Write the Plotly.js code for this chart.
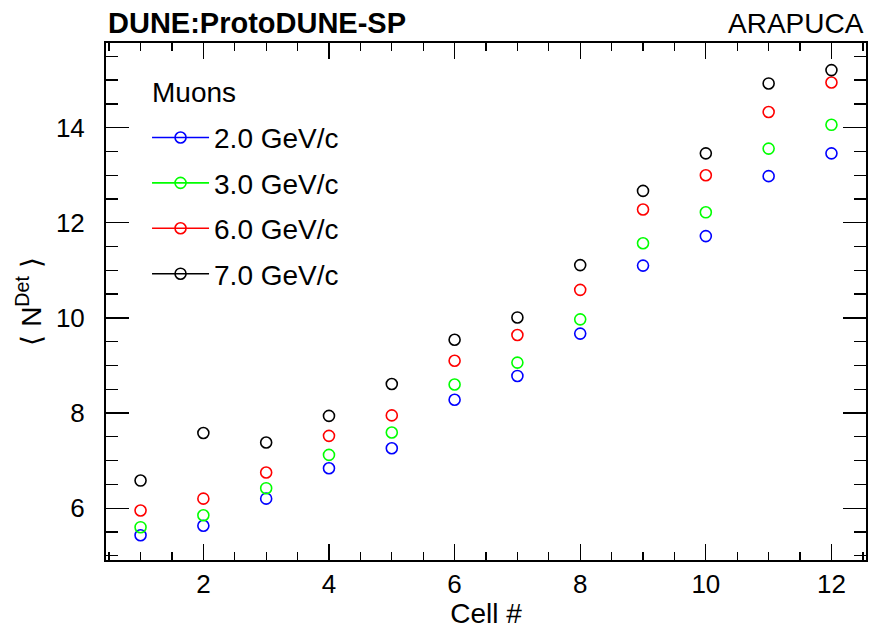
<!DOCTYPE html>
<html>
<head>
<meta charset="utf-8">
<script src="https://cdn.plot.ly/plotly-3.0.1.min.js"></script>
<style>html,body{margin:0;padding:0;background:#fff;}#chart{width:871px;height:629px;}</style>
</head>
<body>
<div id="chart"></div>
<script>
const cells = [1, 2, 3, 4, 5, 6, 7, 8, 9, 10, 11, 12];
const seriesNames = ["2.0 GeV/c", "3.0 GeV/c", "6.0 GeV/c", "7.0 GeV/c"];
const seriesColors = ["#0000ff", "#00ff00", "#ff0000", "#000000"];
const p2GeV = [5.43, 5.63, 6.20, 6.84, 7.26, 8.28, 8.78, 9.67, 11.10, 11.72, 12.98, 13.46];
const p3GeV = [5.60, 5.85, 6.42, 7.12, 7.59, 8.60, 9.06, 9.97, 11.57, 12.22, 13.56, 14.06];
const p6GeV = [5.95, 6.20, 6.75, 7.52, 7.95, 9.10, 9.64, 10.59, 12.28, 13.00, 14.33, 14.95];
const p7GeV = [6.58, 7.58, 7.38, 7.94, 8.61, 9.54, 10.01, 11.11, 12.67, 13.46, 14.93, 15.21];
const seriesValues = [p2GeV, p3GeV, p6GeV, p7GeV];

const FONT = "Liberation Sans, Arial, Helvetica, sans-serif";
const traces = [];
seriesValues.forEach((vals, i) => {
  traces.push({
    x: cells, y: vals, type: "scatter", mode: "markers",
    marker: {symbol: "circle-open", size: 11, color: seriesColors[i], line: {width: 1.6, color: seriesColors[i]}},
    showlegend: false, hoverinfo: "x+y"
  });
});
seriesValues.forEach((vals, i) => {
  traces.push({
    x: [null], y: [null], type: "scatter", mode: "lines+markers",
    name: seriesNames[i], legendgroup: "g" + i,
    line: {color: seriesColors[i], width: 1.6},
    marker: {symbol: "circle-open", size: 11, color: seriesColors[i], line: {width: 1.6, color: seriesColors[i]}}
  });
});

const layout = {
  width: 871, height: 629,
  margin: {l: 106, r: 5, t: 43, b: 68.5},
  paper_bgcolor: "#ffffff", plot_bgcolor: "#ffffff",
  font: {family: FONT, color: "#000"},
  showlegend: true,
  legend: {
    x: 0.054, y: 0.865, xanchor: "left", yanchor: "top",
    bgcolor: "rgba(0,0,0,0)", borderwidth: 0,
    font: {size: 28, family: FONT},
    tracegroupgap: 6, itemwidth: 57
  },
  xaxis: {
    range: [0.45, 12.55], dtick: 2, tick0: 0,
    ticks: "inside", ticklen: 16, tickwidth: 1.3, tickcolor: "#000",
    minor: {dtick: 0.5, ticklen: 8, tickwidth: 1.3, tickcolor: "#000", ticks: "inside"},
    showline: true, linewidth: 2, linecolor: "#000", mirror: "allticks",
    showgrid: false, zeroline: false,
    tickfont: {size: 26, family: FONT},
    title: {text: "Cell #", font: {size: 28, family: FONT}, standoff: 2}
  },
  yaxis: {
    range: [4.91, 15.78], dtick: 2, tick0: 0,
    ticks: "inside", ticklen: 23, tickwidth: 1.3, tickcolor: "#000",
    minor: {dtick: 0.5, ticklen: 12, tickwidth: 1.3, tickcolor: "#000", ticks: "inside"},
    showline: true, linewidth: 2, linecolor: "#000", mirror: "allticks",
    showgrid: false, zeroline: false,
    tickfont: {size: 26, family: FONT},
    ticklabelstandoff: 14,
    title: {text: "⟨ N<sup>Det</sup> ⟩", font: {size: 28, family: FONT}, standoff: 6}
  },
  annotations: [
    {text: "<b>DUNE:ProtoDUNE-SP</b>", xref: "paper", yref: "paper", x: 0, y: 1, xanchor: "left", yanchor: "middle",
     yshift: 20, showarrow: false, font: {size: 29, family: FONT, color: "#000"}},
    {text: "ARAPUCA", xref: "paper", yref: "paper", x: 1, y: 1, xanchor: "right", yanchor: "middle",
     yshift: 20, showarrow: false, font: {size: 28, family: FONT, color: "#000"}},
    {text: "Muons", xref: "paper", yref: "paper", x: 0.058, y: 0.904, xanchor: "left", yanchor: "middle",
     showarrow: false, font: {size: 28, family: FONT, color: "#000"}}
  ]
};

Plotly.newPlot("chart", traces, layout, {displayModeBar: false, staticPlot: true});
</script>
</body>
</html>
